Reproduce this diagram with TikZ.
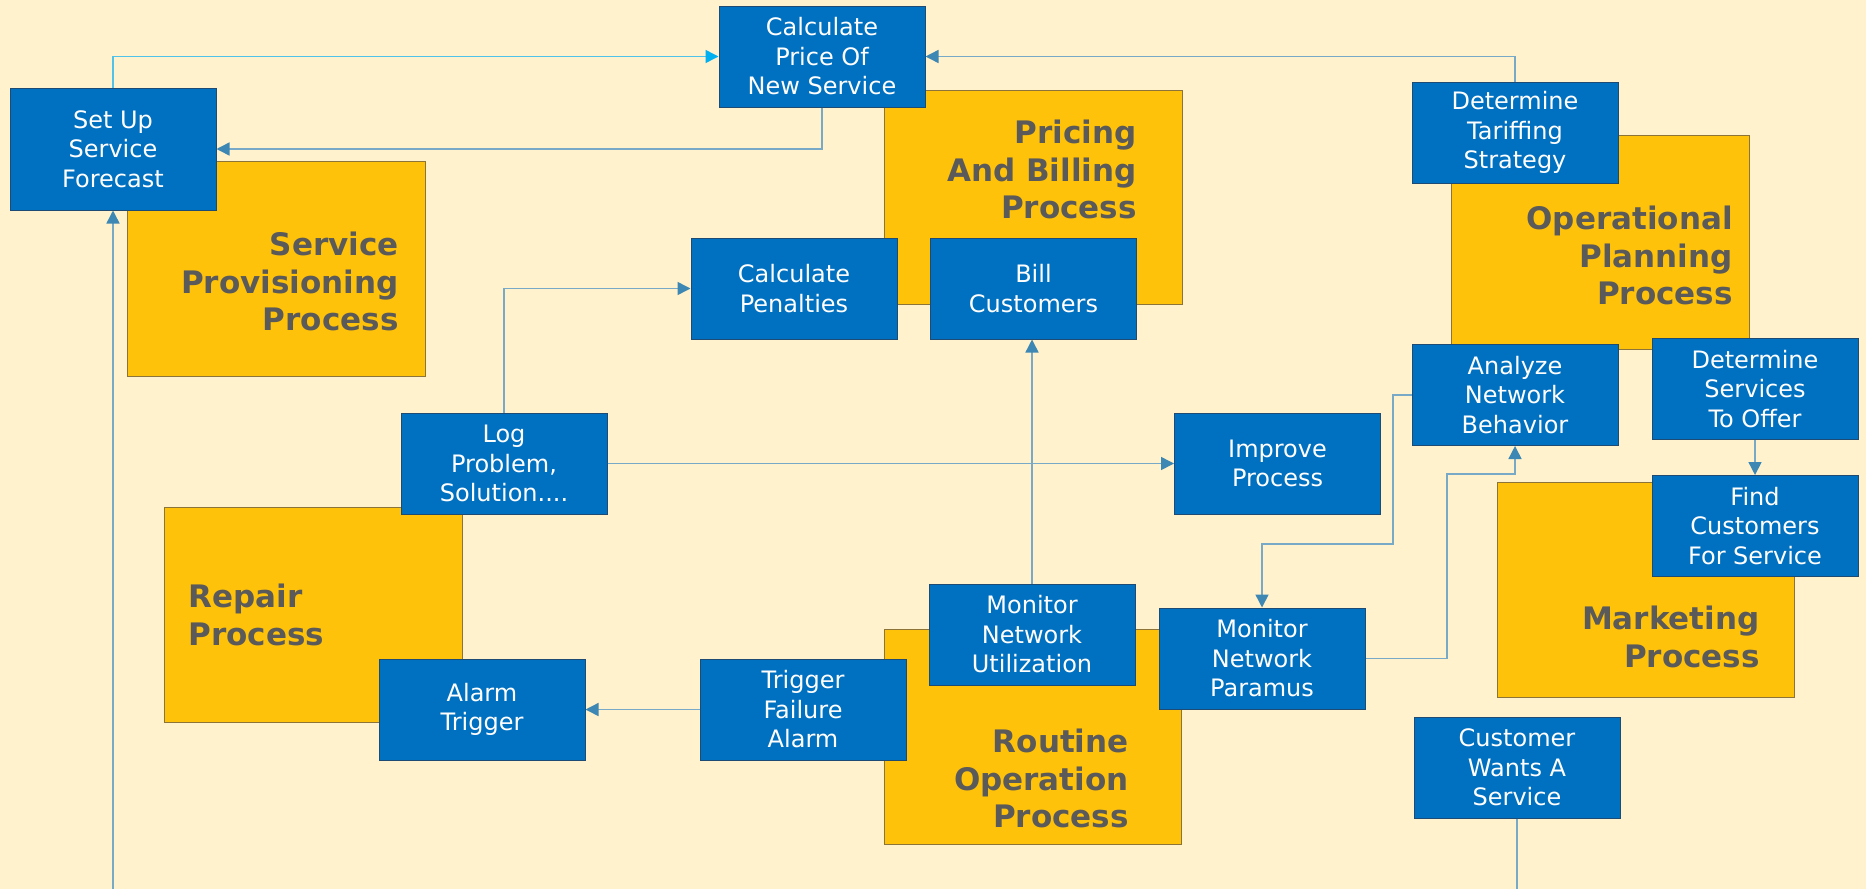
\documentclass[tikz,border=0pt]{standalone}
\usepackage{fontspec}
\setsansfont{DejaVu Sans}
\usetikzlibrary{arrows.meta}

\definecolor{bgcream}{RGB}{255,242,204}
\definecolor{procgold}{RGB}{255,194,11}
\definecolor{procedge}{RGB}{140,115,55}
\definecolor{taskblue}{RGB}{0,112,192}
\definecolor{taskedge}{RGB}{30,75,115}
\definecolor{proctext}{RGB}{90,90,90}
\definecolor{flowline}{RGB}{120,170,200}
\definecolor{flowtip}{RGB}{60,135,180}
\definecolor{feedline}{RGB}{80,195,235}
\definecolor{feedtip}{RGB}{0,176,240}

\tikzset{
  procbox/.style={draw=procedge, line width=0.5pt, fill=procgold},
  proclabel/.style={font=\sffamily\bfseries\fontsize{15.5}{18.75}\selectfont, text=proctext, inner sep=0pt},
  task/.style={draw=taskedge, line width=0.5pt, fill=taskblue, text=white, minimum width=103pt, minimum height=50.5pt, inner sep=0pt, align=center, font=\sffamily\fontsize{12}{14.75}\selectfont},
  plain/.style={draw=flowline, line width=0.75pt},
  flow/.style={plain, -{Triangle[length=6.5pt,width=6.5pt,color=flowtip]}},
  feed/.style={draw=feedline, line width=0.75pt, -{Triangle[length=6.5pt,width=6.5pt,color=feedtip]}}
}

\begin{document}
\begin{tikzpicture}[x=0.5pt,y=-0.5pt]
\fill[bgcream] (0,0) rectangle (1866,889);
\useasboundingbox (0,0) rectangle (1866,889);

\draw[procbox] (127,161) rectangle (425,376);
\draw[procbox] (884,90) rectangle (1182,304);
\draw[procbox] (1451,135) rectangle (1749,349);
\draw[procbox] (164,507) rectangle (462,722);
\draw[procbox] (884,629) rectangle (1181,844);
\draw[procbox] (1497,482) rectangle (1794,697);

\node[proclabel, anchor=north east, align=right] (sptext) at (399,232) {Service\\Provisioning\\Process};
\node[proclabel, anchor=north east, align=right] (pbtext) at (1137,120) {Pricing\\And Billing\\Process};
\node[proclabel, anchor=north east, align=right] (optext) at (1733,206) {Operational\\Planning\\Process};
\node[proclabel, anchor=north west, align=left] (rptext) at (188,584) {Repair\\Process};
\node[proclabel, anchor=north east, align=right] (rotext) at (1129,729) {Routine\\Operation\\Process};
\node[proclabel, anchor=north east, align=right] (mktext) at (1760,606) {Marketing\\Process};

\node[task, minimum height=61pt] (setup) at (113,149) {Set Up\\Service\\Forecast};
\node[task] (calcprice) at (822,56.5) {Calculate\\Price Of\\New Service};
\node[task] (calcpen) at (794,288.5) {Calculate\\Penalties};
\node[task] (bill) at (1033.5,288.5) {Bill\\Customers};
\node[task] (tariff) at (1515,132.5) {Determine\\Tariffing\\Strategy};
\node[task] (analyze) at (1515,395) {Analyze\\Network\\Behavior};
\node[task] (services) at (1755,389) {Determine\\Services\\To Offer};
\node[task] (findcust) at (1755,526) {Find\\Customers\\For Service};
\node[task] (improve) at (1277.5,463.5) {Improve\\Process};
\node[task] (logprob) at (504,463.5) {Log\\Problem,\\Solution....};
\node[task] (alarm) at (482,709.5) {Alarm\\Trigger};
\node[task] (trigger) at (803,709.5) {Trigger\\Failure\\Alarm};
\node[task] (monutil) at (1032,634.5) {Monitor\\Network\\Utilization};
\node[task] (monpar) at (1262,658.5) {Monitor\\Network\\Paramus};
\node[task] (custwants) at (1517,767.5) {Customer\\Wants A\\Service};

\coordinate (fcin) at (113,889);
\coordinate (cwout) at (1517,889);

\draw[feed] (setup.north) |- (calcprice.west);
\draw[flow] (tariff.north) |- (calcprice.east);
\draw[flow] (calcprice.south) |- (setup.east);
\draw[flow] (logprob.north) |- (calcpen.west);
\draw[flow] (logprob.east) -- (improve.west);
\draw[flow] (monutil.north) -- (monutil.north |- bill.south);
\draw[flow] (trigger.west) -- (alarm.east);
\draw[flow] (monpar.east) -| (1447,474) -| (analyze.south);
\draw[flow] (analyze.west) -| (1393,544) -| (monpar.north);
\draw[flow] (services.south) -- (findcust.north);
\draw[flow] (fcin) -- (setup.south);
\draw[plain] (custwants.south) -- (cwout);
\end{tikzpicture}
\end{document}
